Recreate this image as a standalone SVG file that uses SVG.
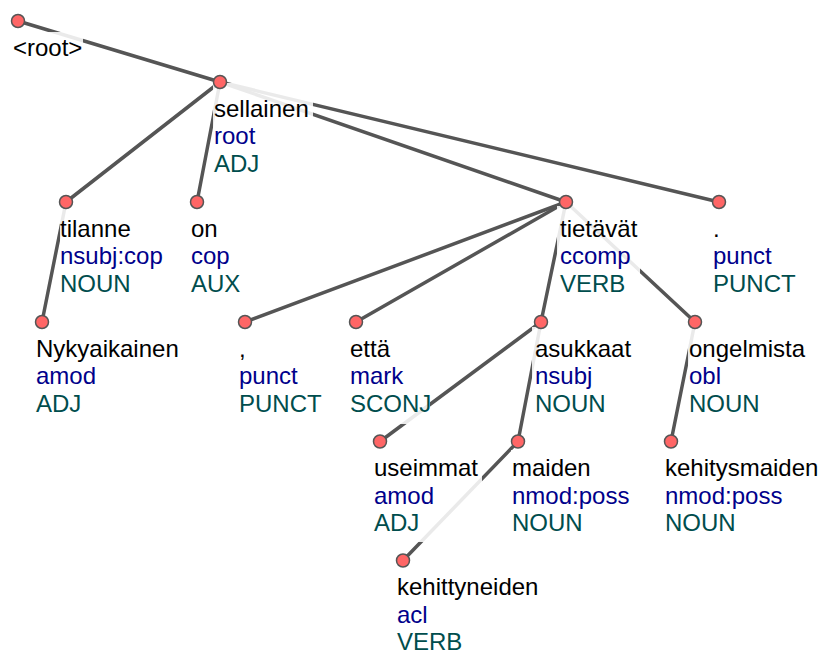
<svg xmlns="http://www.w3.org/2000/svg" width="820" height="652" viewBox="0 0 820 652">
<style>
.e{stroke:#555;stroke-width:3.5;stroke-linecap:round;fill:none}
.bg{fill:#fff;fill-opacity:.88}
.n{fill:#ff6666;stroke:#555;stroke-width:1.5}
text{font-family:"Liberation Sans",Arial,sans-serif;font-size:24px}
.w{fill:#000}.d{fill:#00008b}.u{fill:#004d4d}
</style>
<rect width="820" height="652" fill="#fff"/>
<g id="connectors">
<line class="e" x1="18" y1="21" x2="220" y2="82"/>
<line class="e" x1="220" y1="82" x2="66" y2="202"/>
<line class="e" x1="220" y1="82" x2="197" y2="202"/>
<line class="e" x1="220" y1="82" x2="566" y2="202"/>
<line class="e" x1="220" y1="82" x2="719" y2="202"/>
<line class="e" x1="66" y1="202" x2="42" y2="322"/>
<line class="e" x1="566" y1="202" x2="245" y2="322"/>
<line class="e" x1="566" y1="202" x2="356" y2="322"/>
<line class="e" x1="566" y1="202" x2="541" y2="322"/>
<line class="e" x1="566" y1="202" x2="695" y2="322"/>
<line class="e" x1="541" y1="322" x2="380" y2="441.5"/>
<line class="e" x1="541" y1="322" x2="518" y2="441.5"/>
<line class="e" x1="695" y1="322" x2="671" y2="441.5"/>
<line class="e" x1="518" y1="441.5" x2="403" y2="560.5"/>
</g>
<g id="n-root" transform="translate(18,21)">
<rect class="bg" x="-8" y="11" width="73" height="30"/>
<text class="w" x="-5" y="34.5">&lt;root&gt;</text>
<circle class="n" r="6.5"/>
</g>
<g id="n-sellainen" transform="translate(220,82)">
<rect class="bg" x="-7" y="1" width="100" height="100"/>
<text class="w" x="-6" y="34.5">sellainen</text>
<text class="d" x="-6" y="62.1">root</text>
<text class="u" x="-6" y="89.7">ADJ</text>
<circle class="n" r="6.5"/>
</g>
<g id="n-tilanne" transform="translate(66,202)">
<rect class="bg" x="-6" y="3" width="106" height="98"/>
<text class="w" x="-6" y="34.5">tilanne</text>
<text class="d" x="-6" y="62.1">nsubj:cop</text>
<text class="u" x="-6" y="89.7">NOUN</text>
<circle class="n" r="6.5"/>
</g>
<g id="n-on" transform="translate(197,202)">
<rect class="bg" x="-7" y="4" width="60" height="98"/>
<text class="w" x="-6" y="34.5">on</text>
<text class="d" x="-6" y="62.1">cop</text>
<text class="u" x="-6" y="89.7">AUX</text>
<circle class="n" r="6.5"/>
</g>
<g id="n-tietavat" transform="translate(566,202)">
<rect class="bg" x="-9" y="4" width="83" height="98"/>
<text class="w" x="-6" y="34.5">tietävät</text>
<text class="d" x="-6" y="62.1">ccomp</text>
<text class="u" x="-6" y="89.7">VERB</text>
<circle class="n" r="6.5"/>
</g>
<g id="n-period" transform="translate(719,202)">
<rect class="bg" x="-8" y="4" width="90" height="98"/>
<text class="w" x="-6" y="34.5">.</text>
<text class="d" x="-6" y="62.1">punct</text>
<text class="u" x="-6" y="89.7">PUNCT</text>
<circle class="n" r="6.5"/>
</g>
<g id="n-nykyaikainen" transform="translate(42,322)">
<rect class="bg" x="-8" y="4" width="150" height="98"/>
<text class="w" x="-6" y="34.5">Nykyaikainen</text>
<text class="d" x="-6" y="62.1">amod</text>
<text class="u" x="-6" y="89.7">ADJ</text>
<circle class="n" r="6.5"/>
</g>
<g id="n-comma" transform="translate(245,322)">
<rect class="bg" x="-7" y="4" width="90" height="98"/>
<text class="w" x="-6" y="34.5">,</text>
<text class="d" x="-6" y="62.1">punct</text>
<text class="u" x="-6" y="89.7">PUNCT</text>
<circle class="n" r="6.5"/>
</g>
<g id="n-etta" transform="translate(356,322)">
<rect class="bg" x="-8" y="4" width="82" height="98"/>
<text class="w" x="-6" y="34.5">että</text>
<text class="d" x="-6" y="62.1">mark</text>
<text class="u" x="-6" y="89.7">SCONJ</text>
<circle class="n" r="6.5"/>
</g>
<g id="n-asukkaat" transform="translate(541,322)">
<rect class="bg" x="-9" y="5" width="100" height="98"/>
<text class="w" x="-6" y="34.5">asukkaat</text>
<text class="d" x="-6" y="62.1">nsubj</text>
<text class="u" x="-6" y="89.7">NOUN</text>
<circle class="n" r="6.5"/>
</g>
<g id="n-ongelmista" transform="translate(695,322)">
<rect class="bg" x="-7" y="5" width="122" height="98"/>
<text class="w" x="-6" y="34.5">ongelmista</text>
<text class="d" x="-6" y="62.1">obl</text>
<text class="u" x="-6" y="89.7">NOUN</text>
<circle class="n" r="6.5"/>
</g>
<g id="n-useimmat" transform="translate(380,441.5)">
<rect class="bg" x="-8" y="5.5" width="110" height="95"/>
<text class="w" x="-6" y="34.5">useimmat</text>
<text class="d" x="-6" y="62.1">amod</text>
<text class="u" x="-6" y="89.7">ADJ</text>
<circle class="n" r="6.5"/>
</g>
<g id="n-maiden" transform="translate(518,441.5)">
<rect class="bg" x="-7" y="8.5" width="125" height="95"/>
<text class="w" x="-6" y="34.5">maiden</text>
<text class="d" x="-6" y="62.1">nmod:poss</text>
<text class="u" x="-6" y="89.7">NOUN</text>
<circle class="n" r="6.5"/>
</g>
<g id="n-kehitysmaiden" transform="translate(671,441.5)">
<rect class="bg" x="-7" y="5.5" width="150" height="95"/>
<text class="w" x="-6" y="34.5">kehitysmaiden</text>
<text class="d" x="-6" y="62.1">nmod:poss</text>
<text class="u" x="-6" y="89.7">NOUN</text>
<circle class="n" r="6.5"/>
</g>
<g id="n-kehittyneiden" transform="translate(403,560.5)">
<rect class="bg" x="-7" y="5.5" width="150" height="90"/>
<text class="w" x="-6" y="34.5">kehittyneiden</text>
<text class="d" x="-6" y="62.1">acl</text>
<text class="u" x="-6" y="89.2">VERB</text>
<circle class="n" r="6.5"/>
</g>
</svg>
